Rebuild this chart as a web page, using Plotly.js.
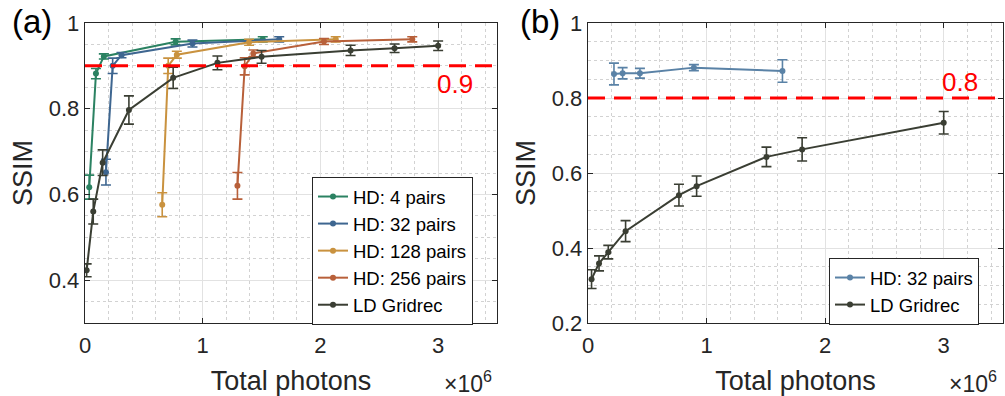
<!DOCTYPE html>
<html>
<head>
<meta charset="utf-8">
<script src="https://cdn.plot.ly/plotly-3.0.1.min.js"></script>
<style>html,body{margin:0;padding:0;background:#fff;}#chart{width:1005px;height:396px;}</style>
</head>
<body>
<div id="chart"></div>
<script>
// ---------- Panel (a) data (Total photons in units of 1e6) ----------
const hd4X   = [0.036, 0.093, 0.16, 0.77, 1.51];
const hd4Y   = [0.617, 0.882, 0.922, 0.956, 0.962];
const hd4E   = [0.028, 0.012, 0.006, 0.007, 0.006];

const hd32X  = [0.178, 0.235, 0.31, 0.913, 1.65];
const hd32Y  = [0.652, 0.900, 0.925, 0.952, 0.962];
const hd32E  = [0.030, 0.018, 0.006, 0.008, 0.006];

const hd128X = [0.656, 0.707, 0.78, 1.394, 2.13];
const hd128Y = [0.576, 0.900, 0.926, 0.955, 0.962];
const hd128E = [0.028, 0.018, 0.008, 0.007, 0.006];

const hd256X = [1.295, 1.357, 1.43, 2.03, 2.78];
const hd256Y = [0.620, 0.899, 0.929, 0.957, 0.962];
const hd256E = [0.031, 0.020, 0.008, 0.007, 0.006];

const ldAX   = [0.014, 0.07, 0.15, 0.373, 0.749, 1.125, 1.5, 2.256, 2.63, 3.0];
const ldAY   = [0.423, 0.560, 0.674, 0.797, 0.872, 0.907, 0.921, 0.936, 0.941, 0.947];
const ldAE   = [0.015, 0.029, 0.030, 0.033, 0.025, 0.016, 0.015, 0.012, 0.010, 0.011];

// ---------- Panel (b) data ----------
const hd32bX = [0.219, 0.292, 0.438, 0.893, 1.64];
const hd32bY = [0.864, 0.866, 0.866, 0.881, 0.872];
const hd32bE = [0.029, 0.015, 0.013, 0.008, 0.030];

const ldBX   = [0.03, 0.093, 0.171, 0.317, 0.767, 0.916, 1.505, 1.806, 3.0];
const ldBY   = [0.317, 0.359, 0.389, 0.445, 0.541, 0.565, 0.643, 0.663, 0.734];
const ldBE   = [0.025, 0.020, 0.018, 0.028, 0.029, 0.027, 0.026, 0.031, 0.030];

const thresholdA = 0.9;
const thresholdB = 0.8;
const xTicks = [0, 1, 2, 3];
const yTicksA = [0.4, 0.6, 0.8, 1];
const yTicksB = [0.2, 0.4, 0.6, 0.8, 1];

const C = {
  green: '#2b8262', blue: '#3e6690', gold: '#c9923f', orange: '#b8603a',
  dark: '#3a3e33', blueB: '#5a82a6', axis: '#262626'
};
const FONT = 'Liberation Sans, Arial, Helvetica, sans-serif';

function tr(x, y, e, name, color, xa, ya, legend) {
  return {
    type: 'scatter', mode: 'lines+markers', x: x, y: y, name: name,
    xaxis: xa, yaxis: ya, legend: legend,
    line: {color: color, width: 2},
    marker: {color: color, size: 6, symbol: 'circle'},
    error_y: {type: 'data', array: e, visible: true, color: color, thickness: 1.6, width: 5}
  };
}

const data = [
  tr(hd4X, hd4Y, hd4E, 'HD: 4 pairs', C.green, 'x', 'y', 'legend'),
  tr(hd32X, hd32Y, hd32E, 'HD: 32 pairs', C.blue, 'x', 'y', 'legend'),
  tr(hd128X, hd128Y, hd128E, 'HD: 128 pairs', C.gold, 'x', 'y', 'legend'),
  tr(hd256X, hd256Y, hd256E, 'HD: 256 pairs', C.orange, 'x', 'y', 'legend'),
  tr(ldAX, ldAY, ldAE, 'LD Gridrec', C.dark, 'x', 'y', 'legend'),
  tr(hd32bX, hd32bY, hd32bE, 'HD: 32 pairs', C.blueB, 'x2', 'y2', 'legend2'),
  tr(ldBX, ldBY, ldBE, 'LD Gridrec', C.dark, 'x2', 'y2', 'legend2')
];

function xax(domain, anchor) {
  return {
    domain: domain, anchor: anchor, range: [0, 3.5], tickvals: xTicks,
    showline: true, mirror: 'ticks', linecolor: C.axis, linewidth: 1.3,
    ticks: 'inside', ticklen: 5, tickcolor: C.axis, tickwidth: 1,
    showgrid: true, gridcolor: '#e2e2e2', gridwidth: 1, zeroline: false,
    minor: {dtick: 0.2, showgrid: true, gridcolor: '#d2d2d2', griddash: 'dot', gridwidth: 1},
    tickfont: {family: FONT, size: 22, color: C.axis}, ticklabelstandoff: 2,
    title: {text: 'Total photons', font: {family: FONT, size: 27, color: C.axis}, standoff: 14},
    automargin: false
  };
}
function yax(range, ticks, anchor) {
  return {
    domain: [0, 1], anchor: anchor, range: range, tickvals: ticks,
    showline: true, mirror: 'ticks', linecolor: C.axis, linewidth: 1.3,
    ticks: 'inside', ticklen: 5, tickcolor: C.axis, tickwidth: 1,
    showgrid: true, gridcolor: '#e2e2e2', gridwidth: 1, zeroline: false,
    minor: {dtick: 0.05, showgrid: true, gridcolor: '#d2d2d2', griddash: 'dot', gridwidth: 1},
    tickfont: {family: FONT, size: 22, color: C.axis},
    title: {text: 'SSIM', font: {family: FONT, size: 27, color: C.axis}, standoff: 8},
    automargin: false
  };
}

const W = 1005;
const layout = {
  width: 1005, height: 396,
  margin: {l: 0, r: 0, t: 23, b: 73, pad: 0},
  paper_bgcolor: '#fff', plot_bgcolor: '#fff',
  font: {family: FONT, color: C.axis},
  showlegend: true,
  xaxis: xax([85 / W, 497 / W], 'y'),
  yaxis: yax([0.3, 1], yTicksA, 'x'),
  xaxis2: xax([588 / W, 1003 / W], 'y2'),
  yaxis2: yax([0.2, 1], yTicksB, 'x2'),
  legend: {
    x: 312 / W, y: (323 - 177) / 300, xanchor: 'left', yanchor: 'top',
    bgcolor: '#fff', bordercolor: '#262626', borderwidth: 1,
    font: {family: FONT, size: 18.5, color: '#000'}, itemwidth: 30, tracegroupgap: 0
  },
  legend2: {
    x: 829 / W, y: (323 - 258) / 300, xanchor: 'left', yanchor: 'top',
    bgcolor: '#fff', bordercolor: '#262626', borderwidth: 1,
    font: {family: FONT, size: 18.5, color: '#000'}, itemwidth: 30, tracegroupgap: 0
  },
  shapes: [
    {type: 'line', xref: 'x domain', yref: 'y', x0: 0, x1: 1, y0: thresholdA, y1: thresholdA,
     line: {color: '#ff0000', width: 3, dash: '17px,9px'}},
    {type: 'line', xref: 'x2 domain', yref: 'y2', x0: 0, x1: 1, y0: thresholdB, y1: thresholdB,
     line: {color: '#ff0000', width: 3, dash: '17px,9px'}}
  ],
  annotations: [
    {text: '(a)', xref: 'paper', yref: 'paper', x: 10 / W, y: (323 - 22) / 300, xanchor: 'left', yanchor: 'middle',
     showarrow: false, font: {family: FONT, size: 33, color: '#000'}},
    {text: '(b)', xref: 'paper', yref: 'paper', x: 518 / W, y: (323 - 22) / 300, xanchor: 'left', yanchor: 'middle',
     showarrow: false, font: {family: FONT, size: 33, color: '#000'}},
    {text: String(thresholdA), xref: 'x', yref: 'paper', x: 3.14, y: (323 - 84) / 300, xanchor: 'center', yanchor: 'middle',
     showarrow: false, font: {family: FONT, size: 26, color: '#ff0000'}},
    {text: String(thresholdB), xref: 'x2', yref: 'paper', x: 3.14, y: (323 - 82) / 300, xanchor: 'center', yanchor: 'middle',
     showarrow: false, font: {family: FONT, size: 26, color: '#ff0000'}},
    {text: '×10<sup>6</sup>', xref: 'paper', yref: 'paper', x: 468 / W, y: (323 - 382) / 300, xanchor: 'center', yanchor: 'middle',
     showarrow: false, font: {family: FONT, size: 23, color: C.axis}},
    {text: '×10<sup>6</sup>', xref: 'paper', yref: 'paper', x: 973 / W, y: (323 - 382) / 300, xanchor: 'center', yanchor: 'middle',
     showarrow: false, font: {family: FONT, size: 23, color: C.axis}}
  ]
};

Plotly.newPlot('chart', data, layout, {displayModeBar: false, staticPlot: true});
</script>
</body>
</html>
